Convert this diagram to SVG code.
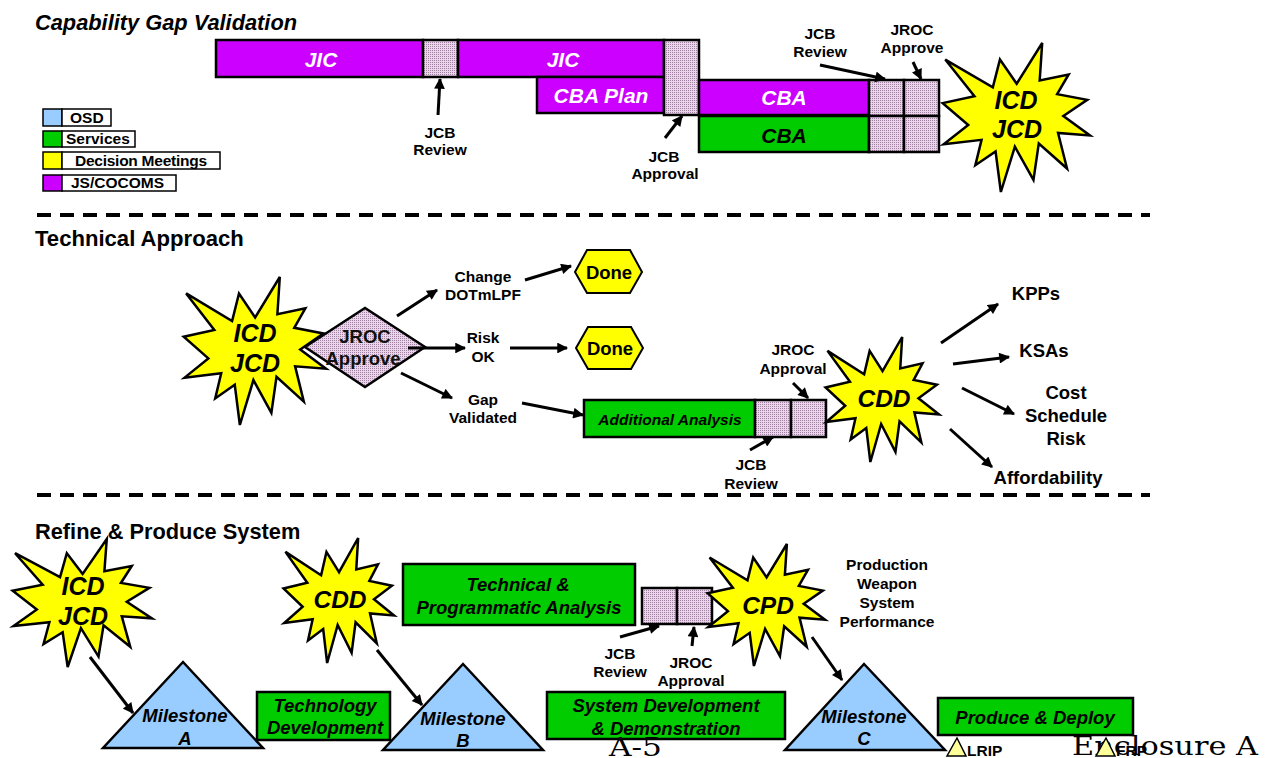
<svg xmlns="http://www.w3.org/2000/svg" xmlns:xlink="http://www.w3.org/1999/xlink" width="1270" height="758" viewBox="0 0 1270 758">
<defs>
<pattern id="hatch" width="2" height="2" patternUnits="userSpaceOnUse"><rect width="2" height="2" fill="#EBD5EB"/><rect width="1" height="1" fill="#A080A0"/></pattern>
<path id="seal" vector-effect="non-scaling-stroke" d="M109.01,59.05 L84.58,23.99 L74.17,64.25 L4.76,23.99 L47.32,77.22 L1.06,87.18 L38.28,118.8 L2.43,146.89 L57.72,140.41 L48.68,177.19 L78.19,157.3 L85.9,216 L106.37,150.38 L133.49,198.4 L141.25,145.61 L182.48,181.95 L169.38,130.44 L216,133.93 L177.1,105.79 L211.98,82.42 L168.06,74.17 L184.82,45.6 L142.57,54.29 L146.23,0 Z"/>
<marker id="ah" viewBox="0 0 10 10" refX="9" refY="5" markerWidth="4" markerHeight="3.6" orient="auto" markerUnits="strokeWidth"><path d="M0,0 L10,5 L0,10 Z" fill="#000"/></marker>
</defs>
<style>
.bx{stroke:#000;stroke-width:2.5}
.pu{fill:#CC00FF}.gr{fill:#00CC00}.bl{fill:#99CCFF}.ye{fill:#FFFF00}.ht{fill:url(#hatch)}
.seal{fill:#FFFF00;stroke:#000;stroke-width:2.5;stroke-linejoin:miter}
.ar{stroke:#000;stroke-width:3;fill:none;marker-end:url(#ah)}
text{font-family:"Liberation Sans",Arial,sans-serif;font-weight:bold;text-anchor:middle;fill:#000}
.t{font-size:15.5px}
.h{font-size:21.8px;text-anchor:start}
.bi{font-style:italic;font-size:21px}
.w{fill:#fff}
.st{font-style:italic;font-size:25px}
.ib{font-style:italic;font-size:18.5px}
.lg{font-size:15.5px;text-anchor:start}
.rg{font-size:18.5px;fill:#111}
.big{font-size:18.5px}
.ser{font-family:"DejaVu Serif","Liberation Serif",serif;font-weight:normal;font-size:26px;text-anchor:start}
.dash{stroke:#000;stroke-width:4;stroke-dasharray:14 9;fill:none}
.lgb{stroke:#000;stroke-width:1.5}
</style>

<!-- section titles and separators -->
<text class="h" x="35" y="30" font-style="italic">Capability Gap Validation</text>
<text class="h" x="35" y="246" style="font-size:22.1px">Technical Approach</text>
<text class="h" x="35" y="539">Refine &amp; Produce System</text>
<line class="dash" x1="37" y1="215" x2="1150" y2="215"/>
<line class="dash" x1="37" y1="495" x2="1150" y2="495"/>

<!-- legend -->
<g id="legend">
<rect class="bl lgb" x="43" y="109" width="19" height="17"/><rect class="lgb" fill="#fff" x="62" y="109" width="49" height="17"/><text class="lg" x="70" y="123">OSD</text>
<rect class="gr lgb" x="43" y="131" width="19" height="16"/><rect class="lgb" fill="#fff" x="62" y="131" width="73" height="16"/><text class="lg" x="66" y="144">Services</text>
<rect class="ye lgb" x="43" y="152" width="19" height="17"/><rect class="lgb" fill="#fff" x="62" y="152" width="158" height="17"/><text class="lg" x="75" y="166" textLength="132">Decision Meetings</text>
<rect class="pu lgb" x="43" y="175" width="19" height="16"/><rect class="lgb" fill="#fff" x="62" y="175" width="114" height="16"/><text class="lg" x="71" y="188">JS/COCOMS</text>
</g>

<!-- top section nodes -->
<g id="jic1"><rect class="pu bx" x="216" y="40" width="207" height="37"/><text class="bi w" x="321" y="66.5">JIC</text></g>
<g id="jcb1"><rect class="ht bx" x="423" y="40" width="35" height="37"/></g>
<g id="jic2"><rect class="pu bx" x="458" y="40" width="206" height="37"/><text class="bi w" x="563" y="66.5">JIC</text></g>
<g id="cbaplan"><rect class="pu bx" x="537" y="77" width="127" height="36"/><text class="bi w" x="601" y="102.5">CBA Plan</text></g>
<g id="jcb2"><rect class="ht bx" x="664" y="40" width="35" height="75"/></g>
<g id="cba1"><rect class="pu bx" x="699" y="80" width="170" height="35"/><text class="bi w" x="784" y="105">CBA</text></g>
<g id="cba2"><rect class="gr bx" x="699" y="116" width="170" height="36"/><text class="bi" x="784" y="142.5">CBA</text></g>
<g id="rev3"><rect class="ht bx" x="869" y="80" width="35" height="36"/><rect class="ht bx" x="869" y="116" width="35" height="36"/></g>
<g id="jroc3"><rect class="ht bx" x="904" y="80" width="35" height="36"/><rect class="ht bx" x="904" y="116" width="35" height="36"/></g>
<g id="star-top"><use href="#seal" class="seal" transform="translate(942,43) scale(0.6852,0.6898)"/><text class="st" x="1016" y="109">ICD</text><text class="st" x="1017" y="138">JCD</text></g>
<g id="top-labels">
<text class="t" x="440" y="137.5">JCB</text><text class="t" x="440" y="155">Review</text>
<text class="t" x="664" y="161.5">JCB</text><text class="t" x="665" y="179">Approval</text>
<text class="t" x="820" y="39">JCB</text><text class="t" x="820" y="57">Review</text>
<text class="t" x="912" y="35">JROC</text><text class="t" x="912" y="53">Approve</text>
</g>

<!-- middle section nodes -->
<g id="star-mid"><use href="#seal" class="seal" transform="translate(183,277) scale(0.662,0.6852)"/><text class="st" x="255" y="342">ICD</text><text class="st" x="255" y="372">JCD</text></g>
<g id="jroc-approve"><polygon class="ht" stroke="#000" stroke-width="2.5" points="305,347 365,308 425,347 365,387"/><text class="rg" x="365" y="343">JROC</text><text class="rg" x="363" y="365">Approve</text></g>
<g id="done1"><polygon class="ye" stroke="#000" stroke-width="2" points="575,272 587,250 630,250 642,272 630,293 587,293"/><text class="rg" x="609" y="279" style="fill:#000">Done</text></g>
<g id="done2"><polygon class="ye" stroke="#000" stroke-width="2" points="576,348 588,327 631,327 643,348 631,369 588,369"/><text class="rg" x="610" y="355" style="fill:#000">Done</text></g>
<g id="addl"><rect class="gr bx" x="584" y="400" width="171" height="37"/><text class="ib" x="670" y="425" style="font-size:15.5px">Additional Analysis</text></g>
<g id="mid-boxes"><rect class="ht bx" x="755" y="400" width="36" height="37"/><rect class="ht bx" x="791" y="400" width="35" height="37"/></g>
<g id="star-cdd"><use href="#seal" class="seal" transform="translate(825,337) scale(0.5278,0.5787)"/><text class="st" x="884" y="407" style="font-size:24.5px">CDD</text></g>
<g id="mid-labels">
<text class="t" x="483" y="281.5">Change</text><text class="t" x="483" y="300">DOTmLPF</text>
<text class="t" x="483" y="343">Risk</text><text class="t" x="483" y="362">OK</text>
<text class="t" x="483" y="405">Gap</text><text class="t" x="483" y="423">Validated</text>
<text class="t" x="793" y="355">JROC</text><text class="t" x="793" y="374">Approval</text>
<text class="t" x="751" y="470">JCB</text><text class="t" x="751" y="489">Review</text>
<text class="big" x="1036" y="300">KPPs</text>
<text class="big" x="1044" y="357">KSAs</text>
<text class="big" x="1066" y="399">Cost</text><text class="big" x="1066" y="422">Schedule</text><text class="big" x="1066" y="445">Risk</text>
<text class="big" x="1048" y="484">Affordability</text>
</g>

<!-- bottom section nodes -->
<g id="star-icd-b"><use href="#seal" class="seal" transform="translate(12,539) scale(0.6481,0.5926)"/><text class="st" x="83" y="595">ICD</text><text class="st" x="83" y="625">JCD</text></g>
<g id="star-cdd-b"><use href="#seal" class="seal" transform="translate(283,538) scale(0.5139,0.5787)"/><text class="st" x="340" y="608" style="font-size:24.5px">CDD</text></g>
<g id="tpa"><rect class="gr bx" x="403" y="564" width="232" height="61"/><text class="ib" x="518" y="591">Technical &amp;</text><text class="ib" x="519" y="614">Programmatic Analysis</text></g>
<g id="bot-boxes"><rect class="ht bx" x="642" y="588" width="35" height="36"/><rect class="ht bx" x="677" y="588" width="35" height="36"/></g>
<g id="star-cpd"><use href="#seal" class="seal" transform="translate(707,544) scale(0.5463,0.5648)"/><text class="st" x="768" y="614" style="font-size:24.5px">CPD</text></g>
<g id="msA"><polygon class="bl" stroke="#000" stroke-width="2.5" points="183,662 103,748 263,748"/><text class="ib" x="185" y="722">Milestone</text><text class="ib" x="185" y="745">A</text></g>
<g id="techdev"><rect class="gr bx" x="257" y="692" width="133" height="48"/><text class="ib" x="325" y="712">Technology</text><text class="ib" x="325" y="734">Development</text></g>
<g id="msB"><polygon class="bl" stroke="#000" stroke-width="2.5" points="463,664 383,750 543,750"/><text class="ib" x="463" y="725">Milestone</text><text class="ib" x="463" y="747">B</text></g>
<g id="sdd"><rect class="gr bx" x="547" y="692" width="238" height="47"/><text class="ib" x="666" y="712">System Development</text><text class="ib" x="666" y="735">&amp; Demonstration</text></g>
<g id="msC"><polygon class="bl" stroke="#000" stroke-width="2.5" points="864,664 785,750 945,750"/><text class="ib" x="864" y="723">Milestone</text><text class="ib" x="864" y="745">C</text></g>
<g id="pd"><rect class="gr bx" x="938" y="698" width="195" height="37"/><text class="ib" x="1035" y="724">Produce &amp; Deploy</text></g>
<text class="ser" x="609" y="756" textLength="53" lengthAdjust="spacingAndGlyphs">A-5</text>
<text class="ser" x="1072" y="755" textLength="186" lengthAdjust="spacingAndGlyphs">Enclosure A</text>
<g id="lrip"><polygon fill="#FFFF99" stroke="#000" stroke-width="1.5" points="957,738 947,756 966,756"/><text class="t" x="967" y="756" style="text-anchor:start">LRIP</text></g>
<g id="frp"><polygon fill="#FFFF99" stroke="#000" stroke-width="1.5" points="1106,738 1096,756 1115,756"/><text class="t" x="1116" y="756" style="text-anchor:start">FRP</text></g>
<g id="bot-labels">
<text class="t" x="620" y="659">JCB</text><text class="t" x="620" y="677">Review</text>
<text class="t" x="691" y="668">JROC</text><text class="t" x="691" y="686">Approval</text>
<text class="t" x="887" y="570">Production</text><text class="t" x="887" y="589">Weapon</text><text class="t" x="887" y="608">System</text><text class="t" x="887" y="627">Performance</text>
</g>

<!-- connectors -->
<g id="connectors">
<line class="ar" x1="438" y1="115" x2="440" y2="79"/>
<line class="ar" x1="665" y1="138" x2="682" y2="116"/>
<line class="ar" x1="820" y1="65" x2="885" y2="79"/>
<line class="ar" x1="913" y1="62" x2="921" y2="79"/>
<line class="ar" x1="397" y1="316" x2="437" y2="290"/>
<line class="ar" x1="525" y1="280" x2="571" y2="266"/>
<line class="ar" x1="408" y1="348" x2="465" y2="348"/>
<line class="ar" x1="510" y1="348" x2="567" y2="348"/>
<line class="ar" x1="401" y1="373" x2="452" y2="398"/>
<line class="ar" x1="522" y1="403" x2="583" y2="415"/>
<line class="ar" x1="793" y1="383" x2="808" y2="398"/>
<line class="ar" x1="750" y1="450" x2="773" y2="437"/>
<line class="ar" x1="941" y1="343" x2="998" y2="304"/>
<line class="ar" x1="953" y1="364" x2="1009" y2="357"/>
<line class="ar" x1="962" y1="388" x2="1014" y2="414"/>
<line class="ar" x1="950" y1="429" x2="992" y2="467"/>
<line class="ar" x1="90" y1="657" x2="133" y2="713"/>
<line class="ar" x1="377" y1="650" x2="422" y2="705"/>
<line class="ar" x1="620" y1="637" x2="659" y2="626"/>
<line class="ar" x1="692" y1="646" x2="694" y2="627"/>
<line class="ar" x1="812" y1="637" x2="842" y2="680"/>
</g>
</svg>
